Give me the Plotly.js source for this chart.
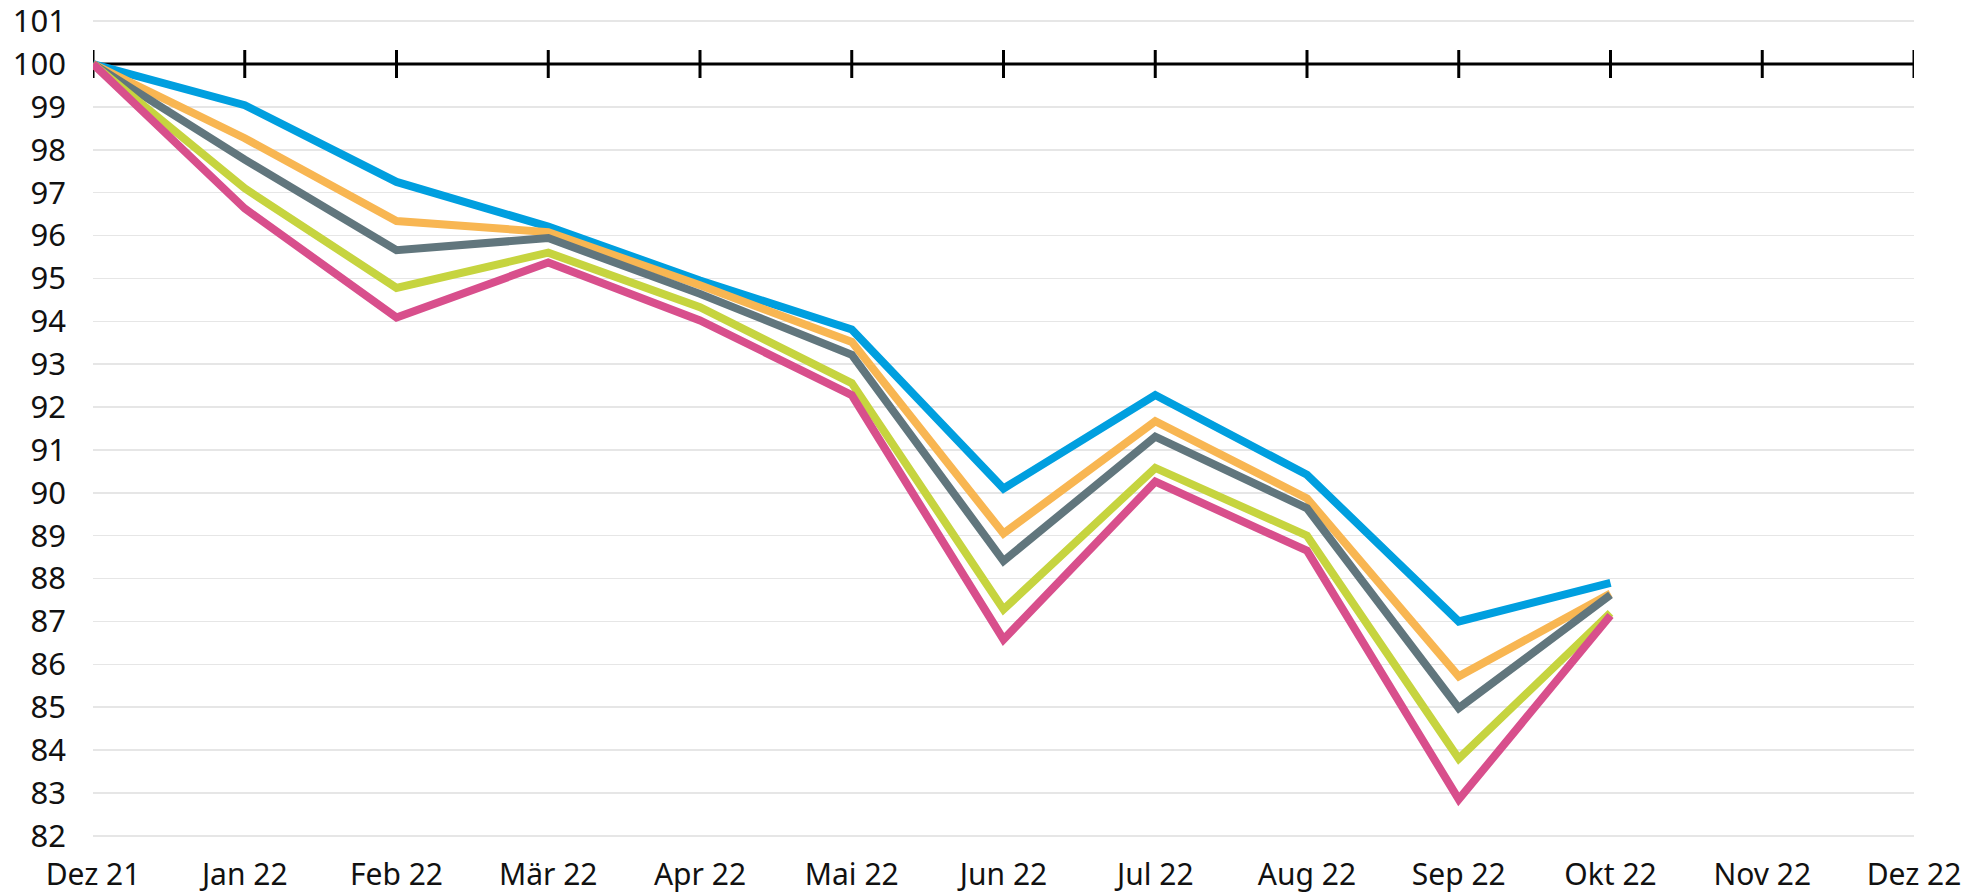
<!DOCTYPE html>
<html>
<head>
<meta charset="utf-8">
<script src="https://cdn.plot.ly/plotly-3.0.1.min.js"></script>
<style>
  html, body { margin: 0; padding: 0; background: #ffffff; }
  #chart { width: 1986px; height: 893px; }
</style>
</head>
<body>
<div id="chart"></div>
<script>
// Month categories (x axis)
const months = ["Dez 21", "Jan 22", "Feb 22", "Mär 22", "Apr 22", "Mai 22", "Jun 22",
                "Jul 22", "Aug 22", "Sep 22", "Okt 22", "Nov 22", "Dez 22"];

// Index values (Dez 21 = 100)
const seriesBlue   = [100, 99.04, 97.25, 96.21, 94.95, 93.81, 90.10, 92.28, 90.42, 87.00, 87.90];
const seriesOrange = [100, 98.27, 96.34, 96.08, 94.84, 93.52, 89.05, 91.67, 89.87, 85.72, 87.65];
const seriesGray   = [100, 97.77, 95.66, 95.94, 94.64, 93.22, 88.41, 91.31, 89.64, 84.98, 87.62];
const seriesGreen  = [100, 97.10, 94.78, 95.60, 94.33, 92.56, 87.28, 90.58, 89.00, 83.80, 87.20];
const seriesPink   = [100, 96.63, 94.09, 95.37, 94.02, 92.28, 86.58, 90.26, 88.65, 82.85, 87.14];

// Baseline reference value (drawn as the axis line with month ticks)
const baseline = 100;

// Y axis ticks
const yTicks = [82, 83, 84, 85, 86, 87, 88, 89, 90, 91, 92, 93, 94, 95, 96, 97, 98, 99, 100, 101];

const seriesList = [
  { name: "Serie 1", y: seriesBlue,   color: "#009FDF" },
  { name: "Serie 2", y: seriesOrange, color: "#F8B652" },
  { name: "Serie 3", y: seriesGray,   color: "#61767D" },
  { name: "Serie 4", y: seriesGreen,  color: "#C6D43F" },
  { name: "Serie 5", y: seriesPink,   color: "#D84F8C" }
];

const traces = [];

// Baseline with tick marks at each month
traces.push({
  x: months,
  y: months.map(() => baseline),
  mode: "lines+markers",
  line: { color: "#000000", width: 3 },
  marker: { symbol: "line-ns", size: 20, line: { color: "#000000", width: 3 }, color: "#000000" },
  hoverinfo: "skip",
  showlegend: false
});

seriesList.forEach(s => {
  traces.push({
    x: months.slice(0, s.y.length),
    y: s.y,
    name: s.name,
    mode: "lines",
    line: { color: s.color, width: 8 },
    showlegend: false
  });
});

const fontFamily = "'Noto Sans', 'Open Sans', sans-serif";
const yMin = yTicks[0], yMax = yTicks[yTicks.length - 1];

const layout = {
  width: 1986,
  height: 893,
  margin: { l: 93, r: 72, t: 19, b: 55, pad: 0 },
  paper_bgcolor: "#ffffff",
  plot_bgcolor: "#ffffff",
  showlegend: false,
  font: { family: fontFamily, size: 30, color: "#111111" },
  xaxis: {
    type: "category",
    categoryorder: "array",
    categoryarray: months,
    range: [0, months.length - 1],
    showgrid: false,
    zeroline: false,
    showline: false,
    ticks: "",
    ticklabelstandoff: 16,
    ticklabeloverflow: "allow",
    tickfont: { family: fontFamily, size: 30, color: "#111111" },
    fixedrange: true
  },
  yaxis: {
    range: [yMin - 0.05, yMax + 0.05],
    tickmode: "array",
    tickvals: yTicks,
    ticktext: yTicks.map(String),
    showgrid: true,
    gridcolor: "#E6E6E6",
    gridwidth: 1.5,
    zeroline: false,
    showline: false,
    ticks: "",
    ticklabelstandoff: 26,
    ticklabeloverflow: "allow",
    tickfont: { family: fontFamily, size: 31, color: "#111111" },
    fixedrange: true
  }
};

Plotly.newPlot("chart", traces, layout, { displayModeBar: false, staticPlot: true });
</script>
</body>
</html>
